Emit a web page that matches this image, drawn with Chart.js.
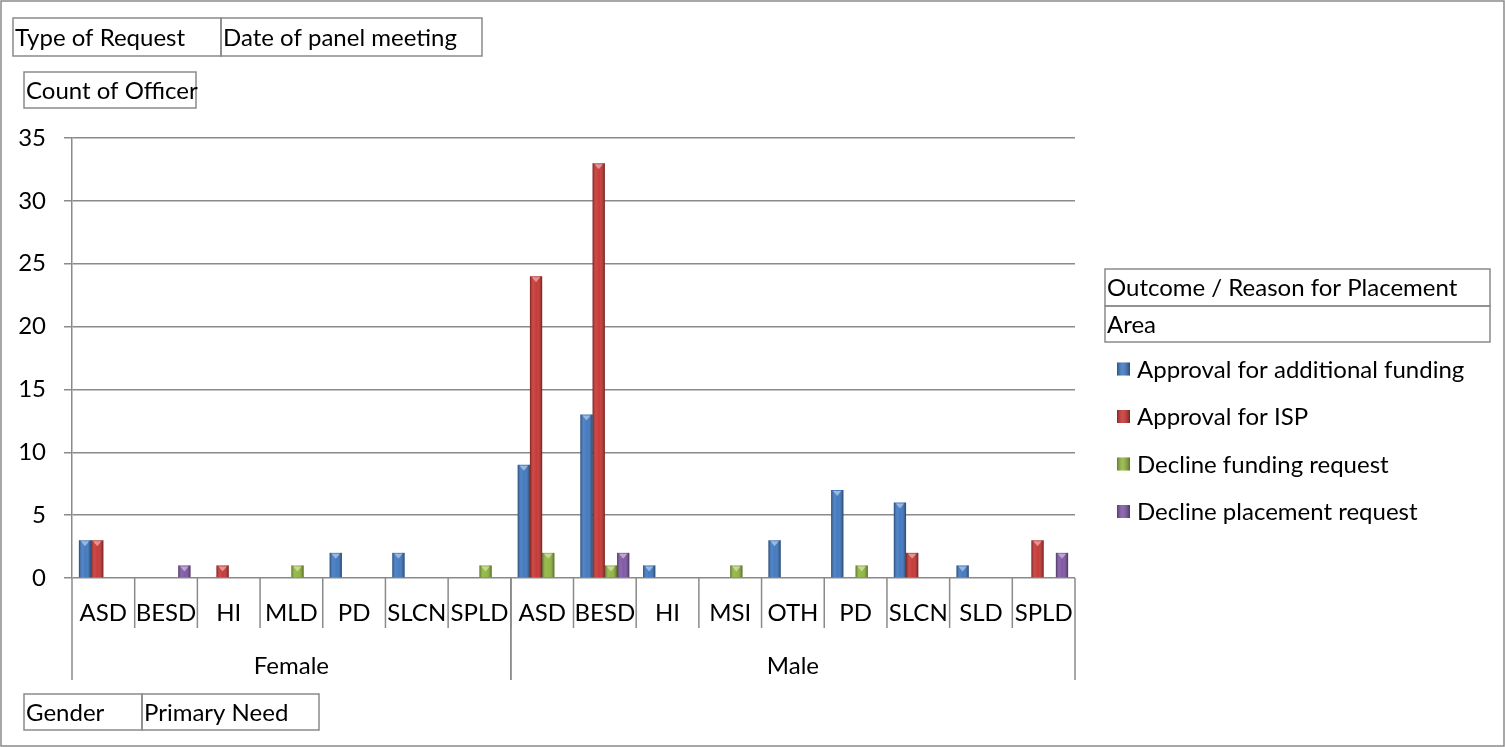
<!DOCTYPE html>
<html>
<head>
<meta charset="utf-8">
<title>Count of Officer</title>
<script src="https://cdn.jsdelivr.net/npm/chart.js@4/dist/chart.umd.min.js"></script>
<style>
  html, body { margin: 0; padding: 0; background: #fff; }
  #wrap { width: 1505px; height: 747px; }
</style>
</head>
<body>
<div id="wrap"><canvas id="myChart" width="1505" height="747"></canvas></div>
<script>
// genders and the primary needs under each one
const generos = ['Female', 'Male'];
const necesidades = [
  ['ASD', 'BESD', 'HI', 'MLD', 'PD', 'SLCN', 'SPLD'],
  ['ASD', 'BESD', 'HI', 'MSI', 'OTH', 'PD', 'SLCN', 'SLD', 'SPLD']
];

const series = ['Approval for additional funding', 'Approval for ISP', 'Decline funding request', 'Decline placement request'];
const colores = ['#3a74bf', '#c5302d', '#8db339', '#7a52a2'];

// counts, female needs first then male needs (null = nothing)
const aprobFondos   = [3, null, null, null, 2, 2, null,   9, 13, 1, null, 3, 7, 6, 1, null];
const aprobISP      = [3, null, 1, null, null, null, null,   24, 33, null, null, null, null, 2, null, 3];
const rechazoFondos = [null, null, null, 1, null, null, 1,   2, 1, null, 1, null, 1, null, null, null];
const rechazoPlaza  = [null, 1, null, null, null, null, null,   null, 2, null, null, null, null, null, null, 2];

const ticksY = [0, 5, 10, 15, 20, 25, 30, 35];

const etiquetas = [];
necesidades.forEach(lista => lista.forEach(n => etiquetas.push(n)));

const fuente = '24px Lato, "Open Sans", sans-serif';
const gris = '#8a8a8a';

function caja(ctx, x, y, w, h, texto) {
  ctx.strokeStyle = gris;
  ctx.lineWidth = 1.5;
  ctx.strokeRect(x, y, w, h);
  ctx.fillStyle = '#000';
  ctx.textAlign = 'left';
  ctx.textBaseline = 'middle';
  ctx.fillText(texto, x + 2, y + h / 2 + 1);
}

// shading over each bar: dark sides, lighter cap on top
const relieve = {
  id: 'relieve',
  afterDatasetsDraw(chart) {
    const ctx = chart.ctx;
    chart.data.datasets.forEach((ds, i) => {
      chart.getDatasetMeta(i).data.forEach((bar, j) => {
        if (ds.data[j] == null) return;
        const x0 = bar.x - bar.width / 2, w = bar.width;
        const top = bar.y, h = bar.base - bar.y;
        const g = ctx.createLinearGradient(x0, 0, x0 + w, 0);
        g.addColorStop(0, 'rgba(0,0,0,0.38)');
        g.addColorStop(0.3, 'rgba(255,255,255,0.12)');
        g.addColorStop(0.55, 'rgba(255,255,255,0.05)');
        g.addColorStop(1, 'rgba(0,0,0,0.42)');
        ctx.save();
        ctx.fillStyle = g;
        ctx.fillRect(x0, top, w, h);
        ctx.fillStyle = 'rgba(255,255,255,0.45)';
        ctx.beginPath();
        ctx.moveTo(x0 + 2, top + 1);
        ctx.lineTo(x0 + w - 2, top + 1);
        ctx.lineTo(x0 + w / 2, top + Math.min(6, h));
        ctx.closePath();
        ctx.fill();
        ctx.restore();
      });
    });
  }
};

// pivot style boxes, two level category axis and legend
const adornos = {
  id: 'adornos',
  afterDraw(chart) {
    const ctx = chart.ctx;
    const x = chart.scales.x;
    const area = chart.chartArea;
    const paso = (area.right - area.left) / etiquetas.length;
    ctx.save();
    ctx.font = fuente;

    // outer frame
    ctx.strokeStyle = gris;
    ctx.lineWidth = 1.5;
    ctx.strokeRect(1, 1, 1503, 745);

    caja(ctx, 13, 18, 208, 38, 'Type of Request');
    caja(ctx, 221, 18, 261, 38, 'Date of panel meeting');
    caja(ctx, 24, 72, 172, 36, 'Count of Officer');
    caja(ctx, 24, 694, 118, 36, 'Gender');
    caja(ctx, 142, 694, 177, 36, 'Primary Need');
    caja(ctx, 1105, 269, 385, 37, 'Outcome / Reason for Placement');
    caja(ctx, 1105, 306, 385, 36, 'Area');

    // category labels and separators
    ctx.strokeStyle = gris;
    ctx.lineWidth = 1.5;
    ctx.fillStyle = '#000';
    ctx.textAlign = 'center';
    ctx.textBaseline = 'middle';
    let k = 0;
    necesidades.forEach((lista, gi) => {
      const inicio = area.left + k * paso;
      lista.forEach(() => {
        const xc = x.getPixelForValue(k);
        ctx.fillText(etiquetas[k], xc, 613);
        if (k > 0) {
          ctx.beginPath();
          ctx.moveTo(area.left + k * paso, area.bottom);
          ctx.lineTo(area.left + k * paso, 628);
          ctx.stroke();
        }
        k++;
      });
      const fin = area.left + k * paso;
      ctx.fillText(generos[gi], (inicio + fin) / 2, 666);
      [inicio, fin].forEach(px => {
        ctx.beginPath();
        ctx.moveTo(px, area.bottom);
        ctx.lineTo(px, 680);
        ctx.stroke();
      });
    });

    // legend
    ctx.textAlign = 'left';
    chart.data.datasets.forEach((ds, i) => {
      const cy = 369 + i * 47.5;
      const sx = 1117, s = 13;
      ctx.fillStyle = ds.backgroundColor;
      ctx.fillRect(sx, cy - s / 2, s, s);
      const g = ctx.createLinearGradient(sx, 0, sx + s, 0);
      g.addColorStop(0, 'rgba(0,0,0,0.3)');
      g.addColorStop(0.4, 'rgba(255,255,255,0.15)');
      g.addColorStop(1, 'rgba(0,0,0,0.35)');
      ctx.fillStyle = g;
      ctx.fillRect(sx, cy - s / 2, s, s);
      ctx.fillStyle = '#000';
      ctx.fillText(ds.label, 1137, cy + 1);
    });
    ctx.restore();
  }
};

const datos = [aprobFondos, aprobISP, rechazoFondos, rechazoPlaza];

const ctx = document.getElementById('myChart');

new Chart(ctx, {
  type: 'bar',
  data: {
    labels: etiquetas,
    datasets: series.map((nombre, i) => ({
      label: nombre,
      data: datos[i],
      backgroundColor: colores[i],
      categoryPercentage: 0.78,
      barPercentage: 1
    }))
  },
  options: {
    responsive: false,
    animation: false,
    events: [],
    layout: { padding: { left: 0, top: 138, right: 430, bottom: 169 } },
    plugins: { legend: { display: false }, tooltip: { enabled: false } },
    scales: {
      x: { display: false },
      y: {
        min: 0,
        max: 35,
        afterFit(s) { s.width = 72; },
        afterBuildTicks(s) { s.ticks = ticksY.map(v => ({ value: v })); },
        grid: { color: gris, lineWidth: 1.5, tickLength: 8 },
        border: { color: gris, width: 1.5 },
        ticks: {
          color: '#000',
          padding: 18,
          font: { family: 'Lato', size: 24 }
        }
      }
    }
  },
  plugins: [relieve, adornos]
});
</script>
</body>
</html>
